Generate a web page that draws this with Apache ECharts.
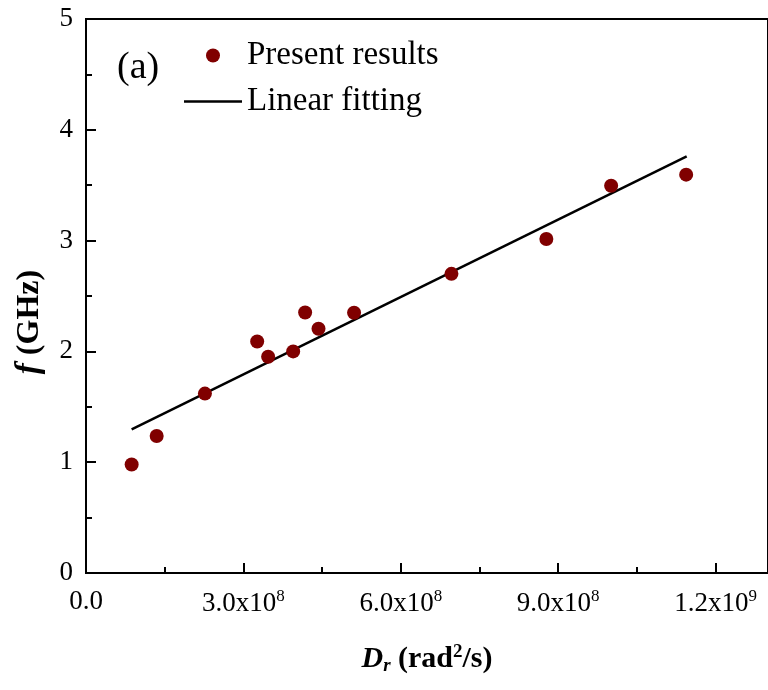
<!DOCTYPE html>
<html>
<head>
<meta charset="utf-8">
<script src="https://cdn.jsdelivr.net/npm/echarts@6/dist/echarts.min.js"></script>
<style>
  html, body { margin: 0; padding: 0; background: #fff; }
  #chart { width: 768px; height: 690px; }
</style>
</head>
<body>
<div id="chart"></div>
<script>
// measured points, D_r in rad^2/s and f in GHz
var drValues = [0.870e8, 1.347e8, 2.267e8, 3.263e8, 3.472e8, 3.949e8, 4.177e8, 4.432e8, 5.110e8, 6.966e8, 8.775e8, 10.01e8, 11.44e8];
var fValues = [0.979, 1.237, 1.619, 2.09, 1.952, 2.0, 2.351, 2.204, 2.349, 2.70, 3.015, 3.495, 3.595];

// fitted line end points
var fitX = [0.870e8, 11.45e8];
var fitY = [1.297, 3.76];

var seriesNames = ['Present results', 'Linear fitting'];

var fontFam = '"Liberation Serif", "DejaVu Serif", serif';

function toPairs(xs, ys) {
  var out = [];
  for (var i = 0; i < xs.length; i++) out.push([xs[i], ys[i]]);
  return out;
}

function sciLabel(v) {
  if (v === 0) return '0.0';
  var e = Math.floor(Math.log10(v) + 1e-9);
  var m = v / Math.pow(10, e);
  return m.toFixed(1) + 'x10{sup|' + e + '}';
}

var option = {
  backgroundColor: '#fff',
  animation: false,
  grid: {
    left: 86,
    top: 19,
    width: 683,
    bottom: 117,
    show: true,
    borderColor: '#000',
    borderWidth: 2
  },
  legend: {
    orient: 'vertical',
    left: 179,
    top: 34,
    itemWidth: 58,
    itemHeight: 14,
    itemGap: 13,
    data: [
      { name: seriesNames[0], icon: 'circle' },
      { name: seriesNames[1], icon: 'path://M0,0H58V2.5H0Z' }
    ],
    textStyle: {
      fontFamily: fontFam,
      fontSize: 33,
      color: '#000',
      lineHeight: 30
    }
  },
  graphic: [{
    type: 'text',
    left: 117,
    top: 49,
    style: {
      text: '(a)',
      fontFamily: fontFam,
      fontSize: 38,
      fill: '#000'
    }
  }],
  xAxis: {
    type: 'value',
    min: 0,
    max: 1.3e9,
    interval: 3e8,
    name: '{bi|D}{sub|r}{b| (rad}{bsup|2}{b|/s)}',
    nameLocation: 'middle',
    nameGap: 70,
    nameTextStyle: {
      rich: {
        bi: { fontFamily: fontFam, fontSize: 30, fontWeight: 'bold', fontStyle: 'italic', color: '#000' },
        sub: { fontFamily: fontFam, fontSize: 19, fontWeight: 'bold', fontStyle: 'italic', color: '#000', padding: [14, 0, 0, 0] },
        b: { fontFamily: fontFam, fontSize: 30, fontWeight: 'bold', color: '#000' },
        bsup: { fontFamily: fontFam, fontSize: 19, fontWeight: 'bold', color: '#000', padding: [0, 0, 14, 0] }
      }
    },
    axisLine: { onZero: false, lineStyle: { color: '#000', width: 2 } },
    axisTick: { inside: true, length: 10, lineStyle: { color: '#000', width: 2 } },
    minorTick: { show: true, splitNumber: 2, length: 6, lineStyle: { color: '#000', width: 2 } },
    splitLine: { show: false },
    axisLabel: {
      margin: 15,
      showMaxLabel: false,
      fontFamily: fontFam,
      fontSize: 27,
      color: '#000',
      formatter: sciLabel,
      rich: {
        sup: { fontFamily: fontFam, fontSize: 17, color: '#000', padding: [0, 0, 14, 0] }
      }
    }
  },
  yAxis: {
    type: 'value',
    min: 0,
    max: 5,
    interval: 1,
    name: '{bi|f}{b| (GHz)}',
    nameLocation: 'middle',
    nameGap: 40,
    nameRotate: 90,
    nameTextStyle: {
      padding: [0, 52, 0, 0],
      rich: {
        bi: { fontFamily: fontFam, fontSize: 33, fontWeight: 'bold', fontStyle: 'italic', color: '#000' },
        b: { fontFamily: fontFam, fontSize: 32, fontWeight: 'bold', color: '#000' }
      }
    },
    axisLine: { onZero: false, lineStyle: { color: '#000', width: 2 } },
    axisTick: { inside: true, length: 10, lineStyle: { color: '#000', width: 2 } },
    minorTick: { show: true, splitNumber: 2, length: 6, lineStyle: { color: '#000', width: 2 } },
    splitLine: { show: false },
    axisLabel: {
      margin: 13,
      fontFamily: fontFam,
      fontSize: 27,
      color: '#000'
    }
  },
  series: [{
    name: seriesNames[0],
    type: 'scatter',
    symbol: 'circle',
    symbolSize: 14,
    itemStyle: { color: '#800000', opacity: 1 },
    data: toPairs(drValues, fValues),
    z: 3
  }, {
    name: seriesNames[1],
    type: 'line',
    symbol: 'none',
    showSymbol: false,
    lineStyle: { color: '#000', width: 2.5 },
    itemStyle: { color: '#000' },
    data: toPairs(fitX, fitY),
    z: 2
  }]
};

var myChart = echarts.init(document.getElementById('chart'));
myChart.setOption(option, true);
</script>
</body>
</html>
